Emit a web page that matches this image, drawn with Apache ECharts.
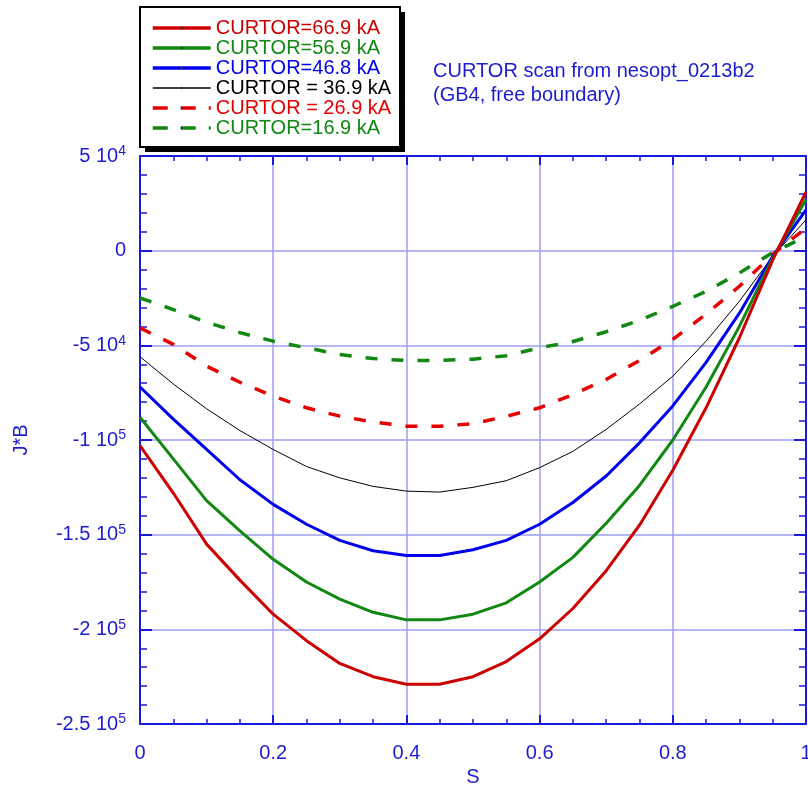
<!DOCTYPE html>
<html>
<head>
<meta charset="utf-8">
<script src="https://cdn.jsdelivr.net/npm/echarts@6/dist/echarts.min.js"></script>
<style>
html,body{margin:0;padding:0;background:#fff;}
#chart{width:808px;height:786px;}
</style>
</head>
<body>
<div id="chart"></div>
<script>
// ---- data ----
var sGrid = [0, 0.05, 0.1, 0.15, 0.2, 0.25, 0.3, 0.35, 0.4, 0.45, 0.5, 0.55, 0.6, 0.65, 0.7, 0.75, 0.8, 0.85, 0.9, 0.95, 1.0];
var curtor669 = [-103000, -128000, -155000, -174000, -192000, -206000, -218000, -225000, -229000, -229000, -225000, -217000, -205000, -189000, -169000, -145000, -116000, -83000, -46000, -5000, 31000];
var curtor569 = [-88000, -110000, -132000, -148000, -163000, -175000, -184000, -191000, -195000, -195000, -192000, -186000, -175000, -162000, -144000, -124000, -100000, -72000, -40000, -4000, 27000];
var curtor468 = [-72000, -89000, -105000, -121000, -134000, -144500, -153000, -158500, -161000, -161000, -158000, -153000, -144500, -133000, -119000, -101500, -82000, -59000, -33000, -3000, 21500];
var curtor369 = [-56000, -70400, -83500, -95000, -105000, -114000, -120000, -124500, -127000, -127500, -125000, -121500, -114600, -106000, -94400, -81000, -66300, -47800, -26700, -3000, 16300];
var curtor269 = [-40800, -49500, -61000, -69500, -76800, -83000, -87400, -90500, -92700, -92700, -91400, -87500, -83000, -76000, -68000, -58000, -46900, -33500, -18800, -2000, 12000];
var curtor169 = [-25000, -31100, -37800, -43300, -47800, -51300, -54800, -57000, -58000, -58000, -57300, -55500, -51300, -48000, -42800, -36800, -29400, -21500, -11800, -1000, 7500];

var seriesNames = ['CURTOR=66.9 kA', 'CURTOR=56.9 kA', 'CURTOR=46.8 kA', 'CURTOR = 36.9 kA', 'CURTOR = 26.9 kA', 'CURTOR=16.9 kA'];
var seriesValues = [curtor669, curtor569, curtor468, curtor369, curtor269, curtor169];

var xTickValues = [0, 0.2, 0.4, 0.6, 0.8, 1];
var xTickLabels = ['0', '0.2', '0.4', '0.6', '0.8', '1'];
var yTickValues = [50000, 0, -50000, -100000, -150000, -200000, -250000];
var yTickMantissa = ['5', '0', '-5', '-1', '-1.5', '-2', '-2.5'];
var yTickExponent = ['4', '', '4', '5', '5', '5', '5'];

var titleLines = ['CURTOR scan from nesopt_0213b2', '(GB4, free boundary)'];
var xName = 'S';
var yName = 'J*B';

// ---- styles ----
var colors = ['#cc0000', '#118811', '#0000ee', '#000000', '#e60000', '#118811'];
var widths = [3, 3, 3, 1, 3.5, 3.5];
var legendWidths = [3.5, 3.5, 3.5, 1.5, 3.5, 3.5];
var types = ['solid', 'solid', 'solid', 'solid', [12, 14], [12, 14]];
var legendTypes = ['solid', 'solid', 'solid', 'solid', [15, 13], [15, 13]];
var textBlue = '#1c1cd0';
var axisBlue = '#1a1add';
var gridBlue = '#9e9ef2';
var FONT = '"Liberation Sans", Arial, sans-serif';

function pairs(xs, ys) {
  var out = [];
  for (var i = 0; i < xs.length; i++) out.push([xs[i], ys[i]]);
  return out;
}

var series = seriesNames.map(function (n, i) {
  return {
    name: n,
    type: 'line',
    xAxisIndex: 0,
    yAxisIndex: 0,
    symbol: 'none',
    smooth: false,
    z: 10 - i,
    lineStyle: { color: colors[i], width: widths[i], type: types[i] },
    itemStyle: { color: colors[i] },
    data: pairs(sGrid, seriesValues[i])
  };
});

var chart = echarts.init(document.getElementById('chart'), null, { renderer: 'canvas' });

var option = {
  animation: false,
  backgroundColor: '#ffffff',
  textStyle: { fontFamily: FONT },
  title: {
    text: titleLines.join('\n'),
    left: 428,
    top: 54,
    textStyle: { color: textBlue, fontSize: 20, fontWeight: 'normal', lineHeight: 24, fontFamily: FONT }
  },
  graphic: [
    { type: 'rect', z: 1, silent: true, shape: { x: 145, y: 12, width: 260, height: 140 }, style: { fill: '#000000' } },
    { type: 'rect', z: 2, silent: true, shape: { x: 140, y: 7, width: 260, height: 140 }, style: { fill: '#ffffff', stroke: '#000000', lineWidth: 2 } }
  ],
  legend: {
    z: 10,
    orient: 'vertical',
    left: 140,
    top: 7,
    padding: [11, 8, 10, 11],
    itemWidth: 58,
    itemHeight: 3,
    itemGap: 0,
    selectedMode: false,
    textStyle: { fontSize: 20, lineHeight: 20, fontFamily: FONT },
    data: seriesNames.map(function (n, i) {
      return {
        name: n,
        textStyle: { color: colors[i] },
        lineStyle: { color: colors[i], width: legendWidths[i], type: legendTypes[i] },
        itemStyle: { color: '#333333' }
      };
    })
  },
  grid: { left: 140, right: 2, top: 156, bottom: 62, containLabel: false, outerBoundsMode: 'none' },
  xAxis: [{
    type: 'value',
    min: 0, max: 1, interval: 0.2,
    position: 'bottom',
    name: xName,
    nameLocation: 'middle',
    nameGap: 41,
    nameTextStyle: { color: textBlue, fontSize: 20, fontFamily: FONT },
    axisLine: { show: true, onZero: false, lineStyle: { color: axisBlue, width: 2 } },
    axisTick: { show: true, inside: true, length: 9, lineStyle: { color: axisBlue, width: 2 } },
    minorTick: { show: true, splitNumber: 4, length: 5, lineStyle: { color: axisBlue, width: 1.5 } },
    splitLine: { show: true, lineStyle: { color: gridBlue, width: 1.5 } },
    axisLabel: {
      color: textBlue, fontSize: 20, margin: 19, fontFamily: FONT,
      formatter: function (v) {
        for (var i = 0; i < xTickValues.length; i++) if (Math.abs(xTickValues[i] - v) < 1e-9) return xTickLabels[i];
        return '';
      }
    }
  }, {
    type: 'value',
    min: 0, max: 1, interval: 0.2,
    position: 'top',
    axisLine: { show: true, onZero: false, lineStyle: { color: axisBlue, width: 2 } },
    axisTick: { show: true, inside: true, length: 9, lineStyle: { color: axisBlue, width: 2 } },
    minorTick: { show: true, splitNumber: 4, length: 5, lineStyle: { color: axisBlue, width: 1.5 } },
    splitLine: { show: false },
    axisLabel: { show: false }
  }],
  yAxis: [{
    type: 'value',
    min: -250000, max: 50000, interval: 50000,
    position: 'left',
    name: yName,
    nameLocation: 'middle',
    nameGap: 109,
    nameRotate: 90,
    nameTextStyle: { color: textBlue, fontSize: 20, fontFamily: FONT },
    axisLine: { show: true, onZero: false, lineStyle: { color: axisBlue, width: 2 } },
    axisTick: { show: true, inside: true, length: 12, lineStyle: { color: axisBlue, width: 2 } },
    minorTick: { show: true, splitNumber: 5, length: 7, lineStyle: { color: axisBlue, width: 1.5 } },
    splitLine: { show: true, lineStyle: { color: gridBlue, width: 1.5 } },
    axisLabel: {
      color: textBlue, fontSize: 20, margin: 14, fontFamily: FONT,
      formatter: function (v) {
        for (var i = 0; i < yTickValues.length; i++) {
          if (Math.abs(yTickValues[i] - v) < 1e-6) {
            if (yTickExponent[i] === '') return '{m|' + yTickMantissa[i] + '}';
            return '{m|' + yTickMantissa[i] + ' 10}{e|' + yTickExponent[i] + '}';
          }
        }
        return '';
      },
      rich: {
        m: { color: textBlue, fontSize: 20, fontFamily: FONT },
        e: { color: textBlue, fontSize: 14, fontFamily: FONT, verticalAlign: 'top', padding: [0, 0, 9, 0] }
      }
    }
  }, {
    type: 'value',
    min: -250000, max: 50000, interval: 50000,
    position: 'right',
    axisLine: { show: true, onZero: false, lineStyle: { color: axisBlue, width: 2 } },
    axisTick: { show: true, inside: true, length: 12, lineStyle: { color: axisBlue, width: 2 } },
    minorTick: { show: true, splitNumber: 5, length: 7, lineStyle: { color: axisBlue, width: 1.5 } },
    splitLine: { show: false },
    axisLabel: { show: false }
  }],
  series: series
};

chart.setOption(option);
</script>
</body>
</html>
